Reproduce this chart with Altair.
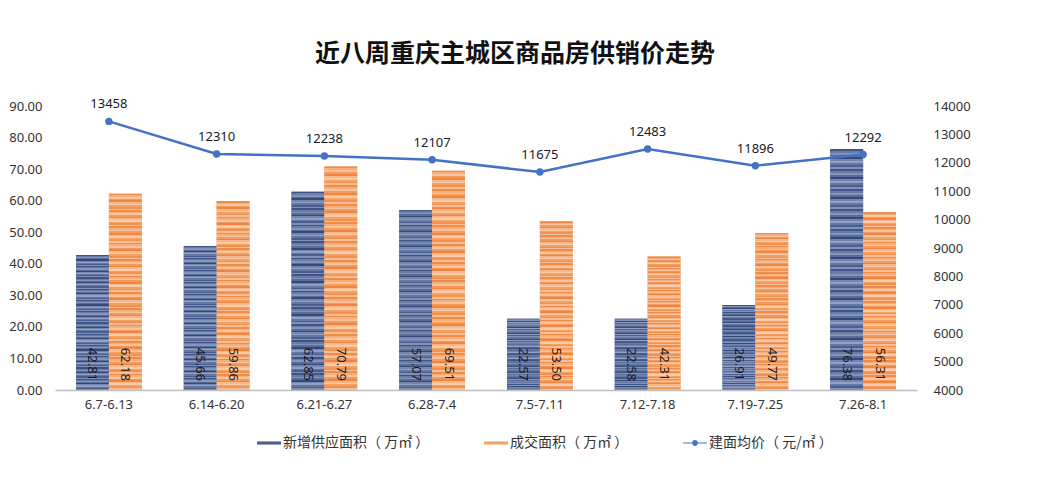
import altair as alt
import pandas as pd

weeks = ["6.7-6.13", "6.14-6.20", "6.21-6.27", "6.28-7.4", "7.5-7.11", "7.12-7.18", "7.19-7.25", "7.26-8.1"]
supply = [42.81, 45.66, 62.85, 57.07, 22.57, 22.58, 26.91, 76.38]
sales = [62.18, 59.86, 70.79, 69.51, 53.50, 42.31, 49.77, 56.31]
price = [13458, 12310, 12238, 12107, 11675, 12483, 11896, 12292]

S1 = "新增供应面积（ 万㎡ ）"
S2 = "成交面积（ 万㎡ ）"
S3 = "建面均价（ 元/㎡ ）"
series_names = [S1, S2, S3]

bars_df = pd.DataFrame(
    [{"week": w, "series": S1, "value": v} for w, v in zip(weeks, supply)]
    + [{"week": w, "series": S2, "value": v} for w, v in zip(weeks, sales)]
)
line_df = pd.DataFrame({"week": weeks, "price": price, "series": S3})
legend_df = pd.DataFrame({"series": series_names})

C1, C2, C3 = "#4B5F8E", "#F3A46B", "#4472C4"
RECT = "M-1,-0.13H1V0.13H-1Z"
LINEDOT = "M-1,-0.05H1V0.05H-1Z M-0.24,0A0.24,0.24 0 1,1 0.24,0A0.24,0.24 0 1,1 -0.24,0Z"


def stripes(pattern, n=120):
    stops = []
    for i in range(n):
        c = pattern[i % len(pattern)]
        stops.append({"offset": i / n, "color": c})
        stops.append({"offset": (i + 1) / n, "color": c})
    return {"gradient": "linear", "x1": 0, "y1": 0, "x2": 0, "y2": 1, "stops": stops}


G1 = stripes(["#3F5486", "#6A7CA6", "#8394BA", "#5A6D99", "#34497A", "#7586AE",
              "#92A1C3", "#6477A2", "#4A5F8F", "#8090B6"])
G2 = stripes(["#F08C48", "#F5AE7C", "#F8C49F", "#F39A5C", "#EE8540", "#F6B88C",
              "#F9CBA8", "#F3A063", "#F19250", "#F7BE95"])

color_scale = alt.Scale(domain=series_names, range=[C1, C2, C3])
leg = alt.Legend(
    orient="none", legendX=202, legendY=325, direction="horizontal", title=None,
    labelFont="Noto Sans CJK SC", labelFontSize=14, labelColor="#333333",
    labelLimit=300, columnPadding=54, symbolSize=576, symbolOpacity=1,
    symbolStrokeWidth=0, labelOffset=2,
)

x_enc = alt.X("week:N", sort=weeks, title=None,
              scale=alt.Scale(paddingInner=0.39, paddingOuter=0.195),
              axis=alt.Axis(labelAngle=0, labelFontSize=13, labelColor="#333333",
                            labelFont="Noto Sans", labelPadding=8, ticks=False,
                            domainColor="#BFBFBF", domainWidth=1.5))
xoff = alt.XOffset("series:N", sort=[S1, S2])
left_scale = alt.Scale(domain=[0, 90], nice=False)
left_axis = alt.Axis(values=list(range(0, 91, 10)), format=".2f", grid=False,
                     ticks=False, domain=False, labelFontSize=13, labelOverlap=False,
                     labelColor="#333333", labelFont="Noto Sans", labelPadding=13)
y_left = alt.Y("value:Q", title=None, scale=left_scale, axis=left_axis)
color_enc = alt.Color("series:N", scale=color_scale, legend=leg)

bars_base = alt.Chart(bars_df).mark_bar().encode(
    x=x_enc, xOffset=xoff, y=y_left, color=color_enc)

bars_tex = alt.Chart(bars_df).mark_bar().encode(
    x=x_enc, xOffset=xoff, y=y_left,
    fill=alt.condition("datum.series === '" + S1 + "'", alt.value(G1), alt.value(G2)),
)

bar_labels = alt.Chart(bars_df).mark_text(
    angle=90, align="center", baseline="middle", fontSize=13, font="Noto Sans", color="#1a1a1a"
).encode(
    x=x_enc, xOffset=xoff,
    y=alt.YDatum(8.1, type="quantitative", title=None, scale=left_scale, axis=left_axis),
    text=alt.Text("value:Q", format=".2f"),
)

legend_layer = alt.Chart(legend_df).mark_point(filled=True, size=0, opacity=0).encode(
    x=alt.XDatum(weeks[0]),
    y=alt.YDatum(0, type="quantitative", title=None, scale=left_scale, axis=left_axis),
    color=color_enc,
    shape=alt.Shape("series:N", scale=alt.Scale(domain=series_names, range=[RECT, RECT, LINEDOT]), legend=leg),
)

bars_layer = alt.layer(bars_base, bars_tex, bar_labels, legend_layer)

y_right = alt.Y("price:Q", title=None,
                scale=alt.Scale(domain=[4000, 14000], nice=False),
                axis=alt.Axis(orient="right", values=list(range(4000, 14001, 1000)), format="d",
                              grid=False, ticks=False, domain=False, labelFontSize=13, labelOverlap=False,
                              labelColor="#333333", labelFont="Noto Sans", labelPadding=16))

line = alt.Chart(line_df).mark_line(
    strokeWidth=2.5, point=alt.OverlayMarkDef(filled=True, size=55)
).encode(x=x_enc, y=y_right, color=color_enc)

line_labels = alt.Chart(line_df).mark_text(
    dy=-17, fontSize=13, font="Noto Sans", color="#1a1a1a"
).encode(x=x_enc, y=y_right, text=alt.Text("price:Q", format="d"))

line_layer = alt.layer(line, line_labels)

chart = alt.layer(bars_layer, line_layer).resolve_scale(y="independent").properties(
    width=862, height=284,
    autosize=alt.AutoSizeParams(type="none"),
    padding={"left": 47, "top": 98, "right": 100, "bottom": 80},
    title=alt.TitleParams("近八周重庆主城区商品房供销价走势", font="Noto Sans CJK SC",
                          fontSize=25, fontWeight="bold", color="#111111",
                          anchor="middle", offset=31, dx=29),
).configure_view(stroke=None).configure_axis(labelOverlap=False)

chart.save("out.html", embed_options={"renderer": "svg", "actions": False})
